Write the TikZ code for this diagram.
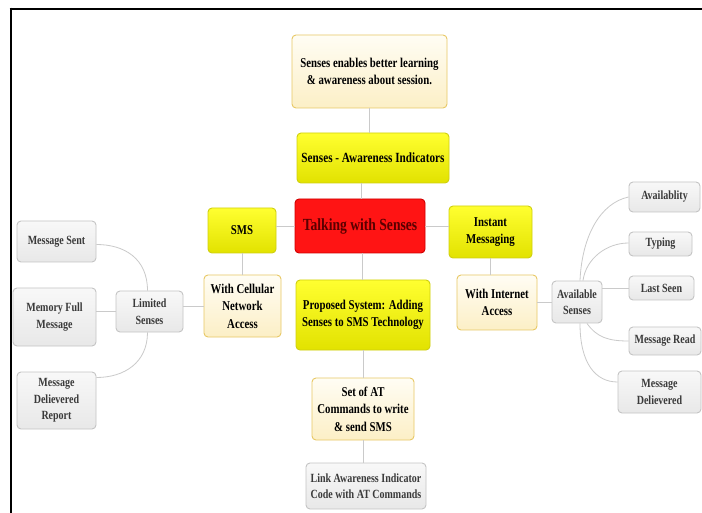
\documentclass[tikz,border=0pt]{standalone}
\usepackage{fontspec}
\setmainfont[FakeStretch=0.8]{Liberation Serif}
\begin{document}
\begin{tikzpicture}[x=1pt,y=-1pt,
  box/.style={rounded corners=4pt, align=center, inner sep=1pt, line width=0.9pt, font=\bfseries},
  cream/.style={box, draw=creamline, top color=creamtop, bottom color=creambot, font=\bfseries\fontsize{13.5}{17.5}\selectfont},
  ylw/.style={box, draw=ylwline, top color=ylwtop, bottom color=ylwbot, font=\bfseries\fontsize{13.5}{17.5}\selectfont},
  gry/.style={box, draw=gryline, top color=grytop, bottom color=grybot, text=grytext, font=\bfseries\fontsize{12.5}{16.5}\selectfont},
  conn/.style={draw=connc, line width=0.8pt}]
\definecolor{creamline}{HTML}{E8C865}
\definecolor{creamtop}{HTML}{FFFDF4}
\definecolor{creambot}{HTML}{FCEFC6}
\definecolor{ylwline}{HTML}{CFCF10}
\definecolor{ylwtop}{HTML}{FFFF30}
\definecolor{ylwbot}{HTML}{E2E200}
\definecolor{gryline}{HTML}{C4C4C4}
\definecolor{grytop}{HTML}{F8F8F8}
\definecolor{grybot}{HTML}{E8E8E8}
\definecolor{grytext}{HTML}{3A3A3A}
\definecolor{connc}{HTML}{CACACA}
\definecolor{redfill}{HTML}{FF1414}
\definecolor{redline}{HTML}{D00000}
\definecolor{redtext}{HTML}{5A0000}
\useasboundingbox (0,0) rectangle (702,513);
\fill[white] (0,0) rectangle (702,513);
% frame
\draw[line width=2.6pt, black] (9.5,9) -- (702,9);
\draw[line width=2.6pt, black] (11,7.7) -- (11,513);
% nodes
\node[cream, minimum width=155pt, minimum height=73pt] (top) at (369.5,71.5) {Senses enables better learning\\ \& awareness about session.};
\node[ylw, minimum width=152pt, minimum height=50pt, font=\bfseries\fontsize{14}{17}\selectfont] (aware) at (373,158) {Senses - Awareness Indicators};
\node[box, draw=redline, fill=redfill, text=redtext, minimum width=130pt, minimum height=54pt, font=\bfseries\fontsize{17}{20}\selectfont] (red) at (360,226) {Talking with Senses};
\node[ylw, minimum width=68pt, minimum height=45pt] (sms) at (242,230.5) {SMS};
\node[ylw, minimum width=83pt, minimum height=52pt] (im) at (490.5,232) {Instant\\Messaging};
\node[cream, minimum width=77pt, minimum height=62pt] (cell) at (242.5,306) {With Cellular\\Network\\Access};
\node[cream, minimum width=80pt, minimum height=55pt] (inet) at (497,302.5) {With Internet\\Access};
\node[ylw, minimum width=134pt, minimum height=70pt] (prop) at (363,315) {Proposed System: Adding\\Senses to SMS Technology};
\node[cream, minimum width=102pt, minimum height=62pt] (at) at (363,409) {Set of AT\\Commands to write\\\& send SMS};
\node[gry, minimum width=120pt, minimum height=46pt] (link) at (366,486) {Link Awareness Indicator\\Code with AT Commands};
\node[gry, minimum width=67pt, minimum height=41pt] (limited) at (149.5,311.5) {Limited\\Senses};
\node[gry, minimum width=79pt, minimum height=41pt] (msent) at (56.5,241.5) {Message Sent};
\node[gry, minimum width=83pt, minimum height=58pt] (memfull) at (54.5,317) {Memory Full\\Message};
\node[gry, minimum width=79pt, minimum height=57pt] (mdrep) at (56.5,400.5) {Message\\Delievered\\Report};
\node[gry, minimum width=50pt, minimum height=42pt] (avail) at (577,302) {Available\\Senses};
\node[gry, minimum width=71pt, minimum height=30pt] (avl) at (664.5,197) {Availablity};
\node[gry, minimum width=63pt, minimum height=24pt] (typing) at (660.5,244) {Typing};
\node[gry, minimum width=65pt, minimum height=24pt] (lastseen) at (661.5,288) {Last Seen};
\node[gry, minimum width=72pt, minimum height=28pt] (mread) at (665,341) {Message Read};
\node[gry, minimum width=83pt, minimum height=42pt] (mdel) at (659.5,392) {Message\\Delievered};
% connectors
\path[conn] (top.south) -- (top.south |- aware.north);
\path[conn] ([xshift=-12pt]aware.south) -- ([xshift=-12pt]aware.south |- red.north);
\path[conn] ([xshift=2pt]red.south) -- ([xshift=2pt]red.south |- prop.north);
\path[conn] (prop.south) -- (prop.south |- at.north);
\path[conn] (at.south) -- (at.south |- link.north);
\path[conn] (red.west) -- (red.west -| sms.east);
\path[conn] (red.east) -- (red.east -| im.west);
\path[conn] (sms.south) -- (sms.south |- cell.north);
\path[conn] (im.south) -- (im.south |- inet.north);
\path[conn] (cell.west) -- (cell.west -| limited.east);
\path[conn] (inet.east) -- (inet.east -| avail.west);
\path[conn] (limited.west) -- (limited.west -| memfull.east);
\path[conn] ([xshift=-2pt]limited.north) .. controls +(0,-32) and +(28,0) .. ([yshift=-3pt]msent.east);
\path[conn] ([xshift=-2pt]limited.south) .. controls +(0,30) and +(28,0) .. ([yshift=23pt]mdrep.east);
\path[conn] ([xshift=3pt]avail.north) .. controls +(2,-45) and +(-28,6) .. (avl.west);
\path[conn] ([xshift=6pt]avail.north) .. controls +(3,-22) and +(-22,0) .. ([yshift=1pt]typing.west);
\path[conn] (avail.east |- lastseen.west) -- (lastseen.west);
\path[conn] ([xshift=10pt]avail.south) .. controls +(10,14) and +(-20,0) .. (mread.west);
\path[conn] ([xshift=3pt]avail.south) .. controls +(0,40) and +(-22,0) .. ([yshift=10pt]mdel.west);
\end{tikzpicture}
\end{document}
